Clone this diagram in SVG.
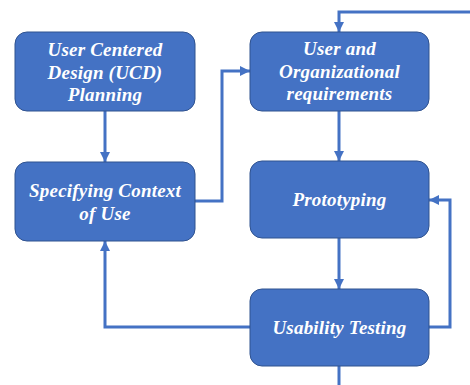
<svg xmlns="http://www.w3.org/2000/svg" width="470" height="385" viewBox="0 0 470 385">
<style>
.box{fill:#4472C4;stroke:#2F528F;stroke-width:1}
.lbl{font-family:"Liberation Serif","Times New Roman",serif;font-size:19px;font-weight:bold;font-style:italic;fill:#fff;text-anchor:middle;letter-spacing:0.2px}
.con{fill:none;stroke:#4472C4;stroke-width:3}
</style>
<defs>
<marker id="ah" viewBox="0 0 10 10" refX="10" refY="5" markerWidth="10" markerHeight="10" markerUnits="userSpaceOnUse" orient="auto">
<path d="M0,0 L10,5 L0,10 Z" fill="#4472C4"/>
</marker>
</defs>
<rect width="470" height="385" fill="#fff"/>
<g id="connectors">
<path class="con" d="M105,111 V162" marker-end="url(#ah)"/>
<path class="con" d="M195,201 H222 V71 H250" marker-end="url(#ah)"/>
<path class="con" d="M470,12 H339 V32" marker-end="url(#ah)"/>
<path class="con" d="M339,111 V161" marker-end="url(#ah)"/>
<path class="con" d="M339,238 V289" marker-end="url(#ah)"/>
<path class="con" d="M429,327 H450 V200 H429" marker-end="url(#ah)"/>
<path class="con" d="M250,327 H105 V241" marker-end="url(#ah)"/>
<path class="con" d="M339,366 V385"/>
</g>
<g id="ucd-planning">
<rect class="box" x="15" y="32" width="180" height="79" rx="12"/>
<text class="lbl" x="105" y="56">User Centered</text>
<text class="lbl" x="105" y="79">Design (UCD)</text>
<text class="lbl" x="105" y="101">Planning</text>
</g>
<g id="context-of-use">
<rect class="box" x="15" y="162" width="180" height="79" rx="12"/>
<text class="lbl" x="105" y="197">Specifying Context</text>
<text class="lbl" x="105" y="220">of Use</text>
</g>
<g id="requirements">
<rect class="box" x="250" y="32" width="179" height="79" rx="12"/>
<text class="lbl" x="339.5" y="55">User and</text>
<text class="lbl" x="339.5" y="78">Organizational</text>
<text class="lbl" x="339.5" y="100">requirements</text>
</g>
<g id="prototyping">
<rect class="box" x="250" y="161" width="179" height="77" rx="12"/>
<text class="lbl" x="339.5" y="206">Prototyping</text>
</g>
<g id="usability-testing">
<rect class="box" x="250" y="289" width="179" height="77" rx="12"/>
<text class="lbl" x="339.5" y="334">Usability Testing</text>
</g>
</svg>
